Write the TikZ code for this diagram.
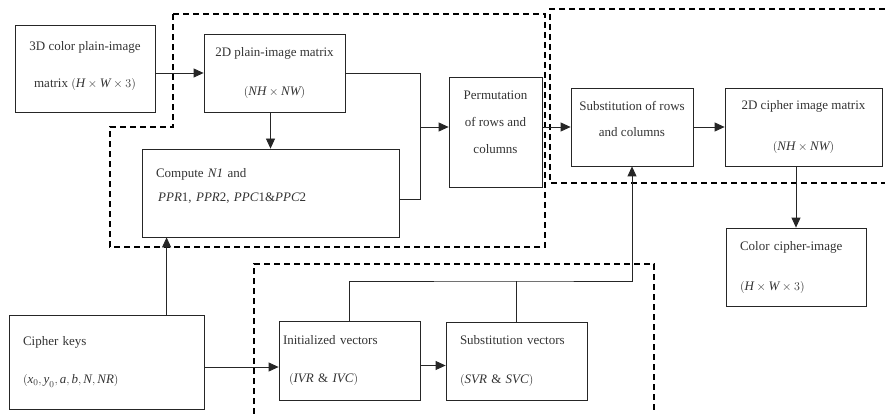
\documentclass[tikz,border=0pt]{standalone}
\usepackage{fontspec}
\setmainfont{Liberation Serif}
\usetikzlibrary{arrows.meta}

% Italic symbol inside math, set in the text font.
\newcommand{\vi}[1]{\mbox{\itshape #1}}

\begin{document}
\begin{tikzpicture}[
    x=1pt,
    y=-1pt,
    block/.style={draw=black!85, line width=0.8pt, inner sep=0pt,
      font=\fontsize{13}{16}\selectfont, text=black!80},
    centred/.style={block, align=center},
    flush/.style={block, align=left, inner xsep=14pt},
    link/.style={draw=black!85, line width=0.8pt},
    flow/.style={link, -{Triangle[length=10pt, width=9pt]}},
    stage/.style={draw=black, line width=1.7pt, dash pattern=on 6pt off 4pt}
]

\useasboundingbox (0,0) rectangle (885,414);

% Stage boundaries.
\draw[stage] (173,14) -- (545,14) -- (545,247) -- (110,247) -- (110,127)
  -- (173,127) -- cycle;
\draw[stage] (885,9) -- (550,9) -- (550,183) -- (885,183);
\draw[stage] (254,414) -- (254,264) -- (654,264) -- (654,414);

% Image matrices and processing steps.
\node[centred, minimum width=140, minimum height=87] (rgb) at (85,68.5)
  {3D color plain-image\\[21pt]
   matrix $\bigl(\vi{H}\times\vi{W}\times3\bigr)$\\[-8pt]\mbox{}};
\node[centred, minimum width=141, minimum height=78] (plain) at (274.5,73)
  {2D plain-image matrix\\[23pt]
   $\bigl(\vi{NH}\times\vi{NW}\bigr)$};
\node[flush, text width=229, minimum height=88] (comp) at (270.5,193)
  {Compute \vi{N1} and\\[8pt]
   \,\vi{PPR}1, \vi{PPR}2, \vi{PPC}1\&\vi{PPC}2\\[0pt]\mbox{}};
\node[centred, minimum width=93, minimum height=110] (perm) at (495.5,132)
  {Permutation\\[11pt] of rows and\\[11pt] columns\\[4pt]\mbox{}};
\node[centred, minimum width=122, minimum height=78] (subst) at (632,127)
  {Substitution of rows\\[10pt] and columns\\[0pt]\mbox{}};
\node[centred, minimum width=157, minimum height=78] (cimg) at (803.5,127)
  {2D cipher image matrix\\[25pt]
   $\bigl(\vi{NH}\times\vi{NW}\bigr)$};
\node[flush, text width=112, minimum height=78] (color) at (796,267)
  {Color cipher-image\\[24pt]
   $\bigl(\vi{H}\times\vi{W}\times3\bigr)$};

% Keys and vectors.
\node[flush, text width=167, minimum height=94] (keys) at (106.5,362)
  {Cipher keys\\[22pt]
   $(\vi{x}_0, \vi{y}_0, \vi{a}, \vi{b}, \vi{N}, \vi{NR})$};
\node[flush, inner xsep=4pt, text width=133, minimum height=79] (init) at (349.5,360.5)
  {Initialized vectors\\[22pt]
   \hspace{6pt}$\bigl(\vi{IVR}\ \&\ \vi{IVC}\bigr)$};
\node[flush, text width=113, minimum height=78] (svec) at (516.5,361)
  {Substitution vectors\\[23pt]
   $\bigl(\vi{SVR}\ \&\ \vi{SVC}\bigr)$};

% Helper points for the joins.
\coordinate (merge) at (420,127);
\coordinate (kup) at ([xshift=25pt]comp.south west);
\coordinate (kout) at ([yshift=-5pt]keys.east);
\coordinate (iout) at ([yshift=-5pt]init.east);
\coordinate (bus) at (516.5,281);

% Connectors.
\draw[flow] (rgb.east |- plain.west) -- (plain.west);
\draw[flow] (comp.north |- plain.south) -- (comp.north);
\draw[link] (plain.east) -| (merge);
\draw[link] ([yshift=-6pt]comp.east) -| (merge);
\draw[flow] (merge) -- (merge -| perm.west);
\draw[flow] (perm.east |- subst.west) -- (subst.west);
\draw[flow] (subst.east) -- (cimg.west);
\draw[flow] (color.north |- cimg.south) -- (color.north);
\draw[flow] (kup |- keys.north) -- (kup);
\draw[flow] (kout) -- (kout -| init.west);
\draw[flow] (iout) -- (iout -| svec.west);
\draw[flow] (init.north) |- (bus) -| (subst.south);
\draw[link] (svec.north) -- (bus);

\end{tikzpicture}
\end{document}
